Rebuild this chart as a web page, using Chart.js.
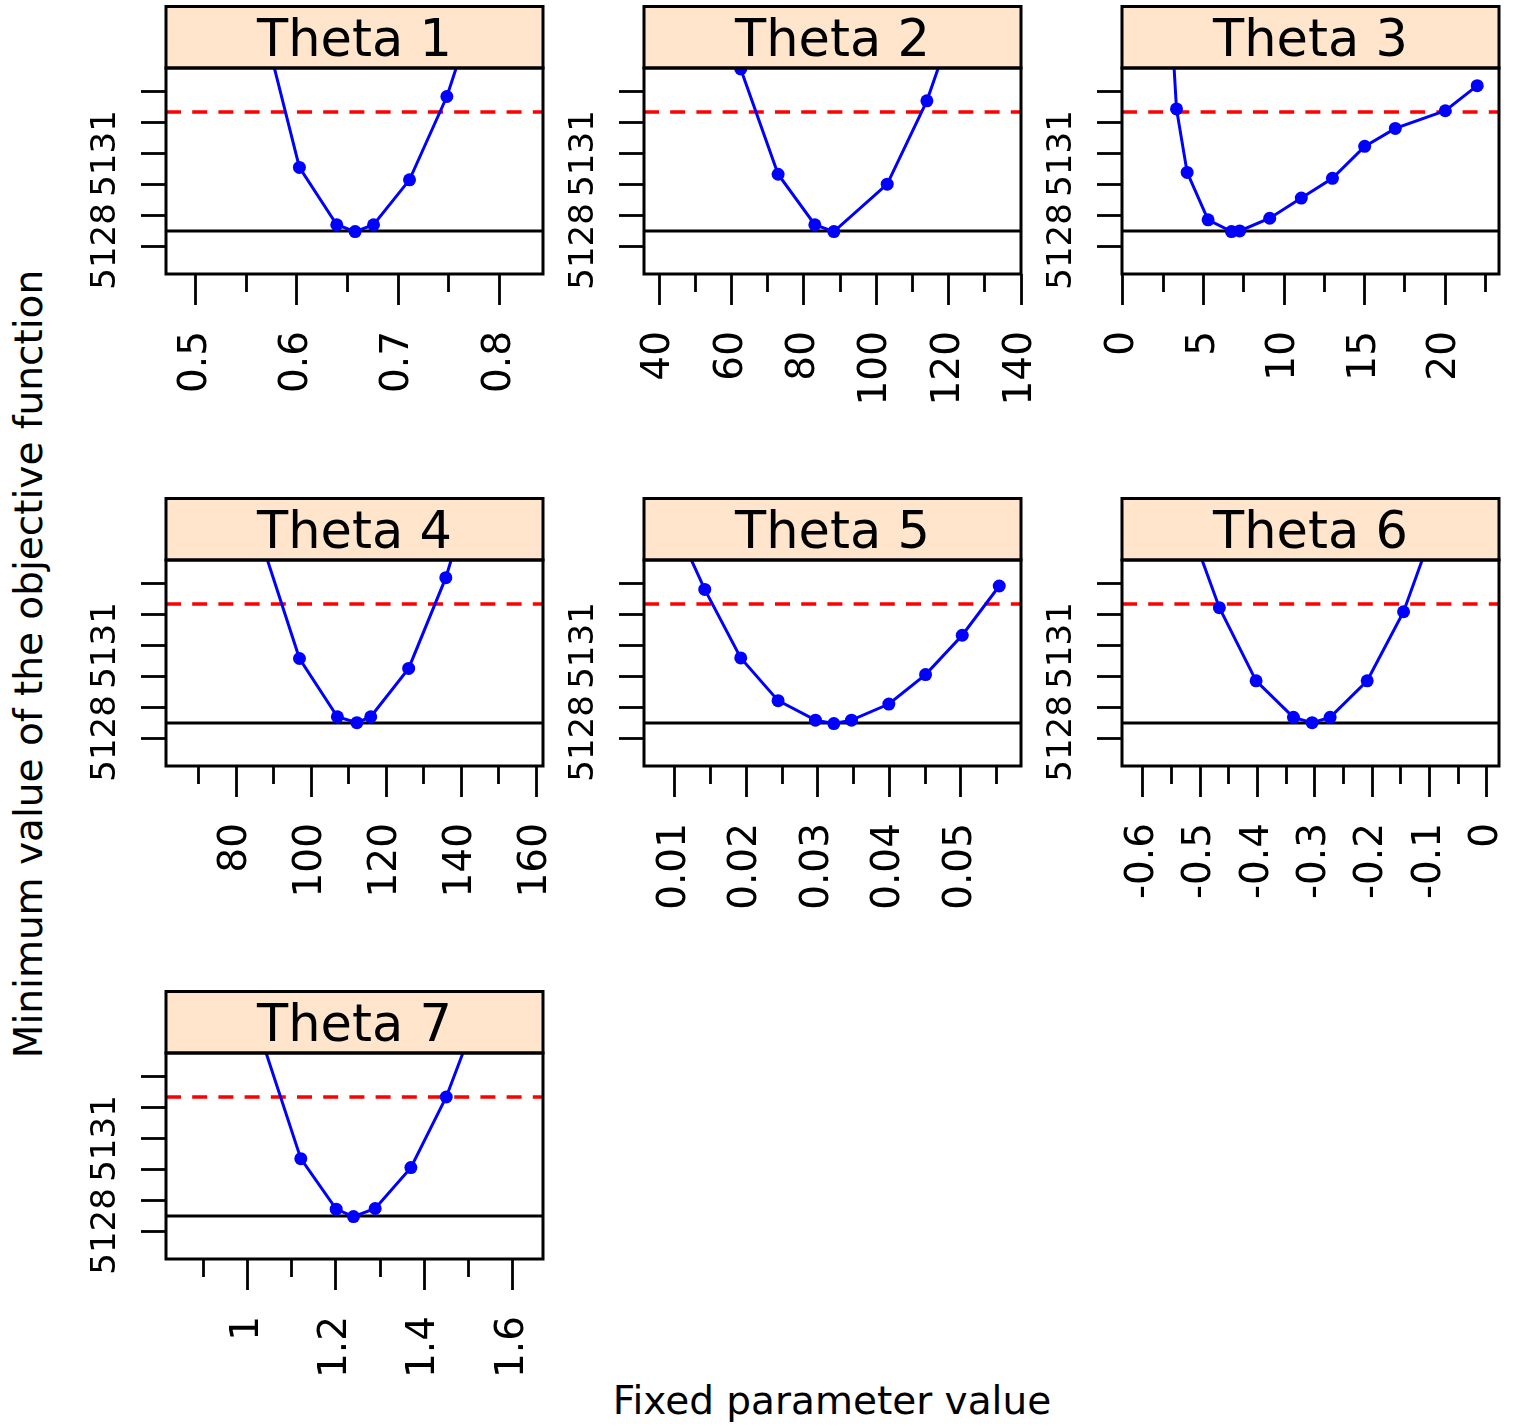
<!DOCTYPE html>
<html>
<head>
<meta charset="utf-8">
<script src="https://cdn.jsdelivr.net/npm/chart.js@4/dist/chart.umd.min.js"></script>
<style>
  body { margin:0; background:#fff; width:1518px; height:1427px; position:relative; overflow:hidden; font-family:"DejaVu Sans", sans-serif; }
  canvas { position:absolute; }
  .lab { position:absolute; font-size:39px; line-height:39px; color:#000; white-space:nowrap; }
  #xlab { left:832px; top:1381px; transform:translateX(-50%); }
  #ylab { left:28px; top:664px; transform:translate(-50%,-50%) rotate(-90deg); }
</style>
</head>
<body>
<div class="lab" id="xlab">Fixed parameter value</div>
<div class="lab" id="ylab">Minimum value of the objective function</div>
<script>
// profile likelihood per theta ------------------------------------------------
const panelNames = ['Theta 1','Theta 2','Theta 3','Theta 4','Theta 5','Theta 6','Theta 7'];

const minOFV = 5128.5;      // black line
const cutOFV = 5132.34;     // red dashed line (min + 3.84)
const yRange = [5127.11, 5133.76];
const yTicks = [5128, 5129, 5130, 5131, 5132, 5133];
const yLabelTicks = [5128, 5131];

const theta1X = [0.566, 0.6024, 0.6393, 0.6574, 0.6756, 0.7111, 0.748, 0.7845];
const theta1Y = [5135.28, 5130.55, 5128.70, 5128.48, 5128.70, 5130.15, 5132.84, 5136.49];
const theta2X = [52.3, 62.58, 72.9, 83.04, 88.3, 103.04, 114.0, 125];
const theta2Y = [5138.0, 5133.73, 5130.33, 5128.70, 5128.48, 5130.01, 5132.70, 5136.41];
const theta3X = [2.67, 3.33, 3.99, 5.29, 6.74, 7.25, 9.11, 11.07, 13.0, 15.0, 16.9, 20.0, 21.98];
const theta3Y = [5138.25, 5132.44, 5130.39, 5128.86, 5128.48, 5128.50, 5128.91, 5129.56, 5130.20, 5131.23, 5131.81, 5132.38, 5133.19];
const theta4X = [86.8, 96.9, 107.0, 112.2, 115.9, 126.0, 135.9, 146];
const theta4Y = [5134.34, 5130.58, 5128.70, 5128.51, 5128.70, 5130.26, 5133.19, 5137.2];
const theta5X = [0.009, 0.0142, 0.01923, 0.02445, 0.02967, 0.03224, 0.03471, 0.03993, 0.04506, 0.05019, 0.05536];
const theta5Y = [5135.45, 5132.81, 5130.60, 5129.22, 5128.59, 5128.48, 5128.59, 5129.11, 5130.06, 5131.33, 5132.92];
const theta6X = [-0.53, -0.4663, -0.4023, -0.3372, -0.3047, -0.2733, -0.2087, -0.1453, -0.081];
const theta6Y = [5135.47, 5132.22, 5129.86, 5128.68, 5128.51, 5128.68, 5129.86, 5132.09, 5135.4];
const theta7X = [1.0, 1.1208, 1.2008, 1.24, 1.289, 1.3698, 1.4498, 1.53];
const theta7Y = [5135.6, 5130.35, 5128.72, 5128.48, 5128.74, 5130.06, 5132.34, 5135.36];

const xRanges = [[0.4707, 0.8429], [35.85, 140.0], [-0.05, 23.33], [61.33, 161.8],
                 [0.00571, 0.0584], [-0.636, 0.021], [0.8158, 1.6687]];
const xMajor = [[0.5, 0.6, 0.7, 0.8], [40, 60, 80, 100, 120, 140], [0, 5, 10, 15, 20],
                [80, 100, 120, 140, 160], [0.01, 0.02, 0.03, 0.04, 0.05],
                [-0.6, -0.5, -0.4, -0.3, -0.2, -0.1, 0], [1, 1.2, 1.4, 1.6]];
const xMinor = [[0.55, 0.65, 0.75], [50, 70, 90, 110, 130], [2.5, 7.5, 12.5, 17.5, 22.5],
                [70, 90, 110, 130, 150], [0.015, 0.025, 0.035, 0.045, 0.055],
                [-0.55, -0.45, -0.35, -0.25, -0.15, -0.05], [0.9, 1.1, 1.3, 1.5]];

const allX = [theta1X, theta2X, theta3X, theta4X, theta5X, theta6X, theta7X];
const allY = [theta1Y, theta2Y, theta3Y, theta4Y, theta5Y, theta6Y, theta7Y];

// page layout
const colLeft = [166, 644, 1122];
const rowTop = [5, 497, 990];
const panelW = 377, stripH = 63, plotH = 206;
const padL = 130, padR = 30, padB = 150;
const FONT = '"DejaVu Sans", sans-serif';

function frame(title) {
  return {
    id: 'frame',
    afterDraw(chart) {
      const {ctx, chartArea: a} = chart;
      const w = a.right - a.left;
      ctx.save();
      ctx.fillStyle = '#ffe5cc';
      ctx.fillRect(a.left, 1.5, w, a.top - 1.5);
      ctx.lineWidth = 3;
      ctx.strokeStyle = '#000';
      ctx.strokeRect(a.left, 1.5, w, a.top - 1.5);
      ctx.strokeRect(a.left, a.top, w, a.bottom - a.top);
      ctx.fillStyle = '#000';
      ctx.font = '51px ' + FONT;
      ctx.textAlign = 'center';
      ctx.textBaseline = 'alphabetic';
      ctx.fillText(title, (a.left + a.right) / 2, a.top / 2 + 19);
      // rotated y labels
      const ys = chart.scales.y;
      ctx.font = '34px ' + FONT;
      yLabelTicks.forEach(v => {
        ctx.save();
        ctx.translate(a.left - 51, ys.getPixelForValue(v));
        ctx.rotate(-Math.PI / 2);
        ctx.fillText(String(v), 0, 0);
        ctx.restore();
      });
      ctx.restore();
    }
  };
}

panelNames.forEach((name, i) => {
  const col = i % 3, row = Math.floor(i / 3);
  const cv = document.createElement('canvas');
  cv.width = padL + panelW + padR;
  cv.height = stripH + plotH + padB;
  cv.style.left = (colLeft[col] - padL) + 'px';
  cv.style.top = rowTop[row] + 'px';
  document.body.appendChild(cv);

  const xr = xRanges[i];
  const xs = allX[i], ys = allY[i];
  const major = xMajor[i], minor = xMinor[i];

  new Chart(cv, {
    type: 'line',
    data: {
      datasets: [
        {
          data: xs.map((x, j) => ({x: x, y: ys[j]})),
          borderColor: '#0000ff', backgroundColor: '#0000ff',
          pointBackgroundColor: '#0000ff', borderWidth: 3,
          pointRadius: 6.5, pointBorderWidth: 0, pointHoverRadius: 6.5,
          tension: 0, order: 0
        },
        {
          data: [{x: xr[0], y: cutOFV}, {x: xr[1], y: cutOFV}],
          borderColor: '#ff0000', borderWidth: 3.5, borderDash: [15, 11.2],
          pointRadius: 0, order: 1
        },
        {
          data: [{x: xr[0], y: minOFV}, {x: xr[1], y: minOFV}],
          borderColor: '#000', borderWidth: 3,
          pointRadius: 0, order: 2
        }
      ]
    },
    options: {
      responsive: false,
      animation: false,
      events: [],
      layout: {padding: {top: stripH, right: padR, left: 0, bottom: 0}},
      plugins: {legend: {display: false}, tooltip: {enabled: false}},
      scales: {
        x: {
          type: 'linear', min: xr[0], max: xr[1],
          afterBuildTicks: s => {
            s.ticks = major.map(v => ({value: v, minor: false}))
              .concat(minor.map(v => ({value: v, minor: true})))
              .sort((a, b) => a.value - b.value);
          },
          afterFit: s => { s.height = padB; s.paddingLeft = 0; s.paddingRight = 0; },
          ticks: {
            autoSkip: false, minRotation: 90, maxRotation: 90, padding: 26,
            color: '#000', font: {family: FONT, size: 39},
            callback: (v, k, t) => t[k].minor ? '' : String(v)
          },
          grid: {
            drawOnChartArea: false, drawTicks: true, tickLength: 31,
            tickColor: '#000', tickWidth: 2.8,
            tickBorderDash: c => (c.tick && c.tick.minor) ? [18, 40] : []
          },
          border: {display: false}
        },
        y: {
          type: 'linear', min: yRange[0], max: yRange[1],
          afterBuildTicks: s => { s.ticks = yTicks.map(v => ({value: v})); },
          afterFit: s => { s.width = padL; s.paddingTop = 0; s.paddingBottom = 0; },
          ticks: {display: false},
          grid: {drawOnChartArea: false, drawTicks: true, tickLength: 25, tickColor: '#000', tickWidth: 2.8},
          border: {display: false}
        }
      }
    },
    plugins: [frame(name)]
  });
});
</script>
</body>
</html>
